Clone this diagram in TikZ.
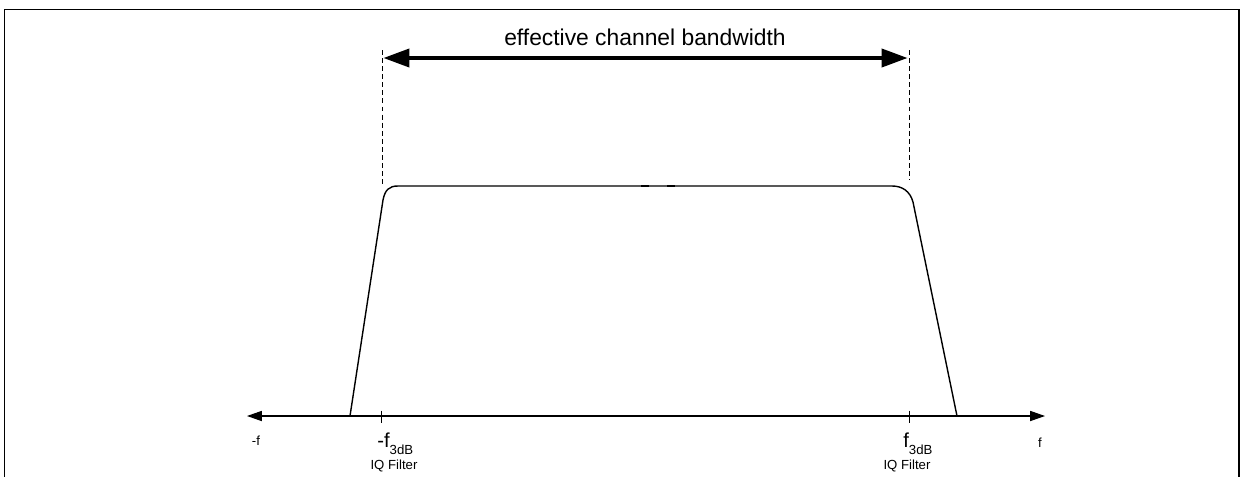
\documentclass[tikz,border=0pt]{standalone}
\usepackage{fontspec}
\setmainfont{Liberation Sans}
\usetikzlibrary{arrows.meta,positioning}

\newcommand{\fsub}[1]{{\fontsize{11.5}{13}\selectfont #1}\raisebox{-4.5pt}{\fontsize{7.5}{9}\selectfont 3dB}}

\begin{document}
\begin{tikzpicture}[x=0.02cm,y=-0.02cm,
    axis/.style={line width=0.6pt,{Triangle[length=8.5pt,width=5.8pt]}-{Triangle[length=8.5pt,width=5.8pt]}},
    bwarrow/.style={line width=2.8pt,{Triangle[length=15pt,width=10pt]}-{Triangle[length=15pt,width=10pt]}},
    guide/.style={dash pattern=on 2.8pt off 1.8pt,line width=0.5pt},
    curve/.style={line width=0.8pt},
    small/.style={font=\fontsize{7.5}{9}\selectfont,inner sep=0pt}]
  \useasboundingbox (0,0) rectangle (1242,477);
  % open frame
  \draw[line width=0.8pt] (4.5,477) -- (4.5,9.5) -- (1239,9.5) -- (1239,477);
  % frequency axis
  \coordinate (axL) at (247,416);
  \coordinate (axR) at (1045,416);
  \draw[axis] (axL) -- (axR);
  % ticks at the 3 dB points
  \coordinate (tkL) at (381,416);
  \coordinate (tkR) at (909,416);
  \draw[line width=0.5pt] ([yshift=3pt]tkL) -- ([yshift=-4pt]tkL);
  \draw[line width=0.5pt] ([yshift=3pt]tkR) -- ([yshift=-4pt]tkR);
  % filter passband
  \coordinate (baseL) at (350,416);
  \coordinate (baseR) at (957,416);
  \coordinate (topL) at (398,186);
  \coordinate (topR) at (892,186);
  \draw[curve] (baseL) -- (383,200) .. controls (385,190) and (389,186) .. (topL) -- (topR)
    .. controls (902,186) and (910,191) .. (913,202) -- (baseR);
  \draw[line width=1.6pt] (641,186) -- (649,186) (667,186) -- (675,186);
  % bandwidth marker
  \coordinate (bwL) at (382,50);
  \coordinate (bwR) at (909,50);
  \draw[guide] (bwL) -- (382,187);
  \draw[guide] (bwR) -- (909,180);
  \draw[bwarrow] (383,58) -- (908,58);
  \node[font=\fontsize{13}{15}\selectfont] (bwtext) at (645,37) {effective channel bandwidth};
  % axis labels
  \node[small] (fneg) at (256,441) {-f};
  \node[small] (fpos) at (1040,443) {f};
  \node[anchor=base west,inner sep=0pt] (f3L) at (377,447) {\fsub{-f}};
  \node[anchor=base west,inner sep=0pt] (f3R) at (903,447) {\fsub{f}};
  \node[small] (iqL) at (394,466) {IQ Filter};
  \node[small] (iqR) at (907,466) {IQ Filter};
\end{tikzpicture}
\end{document}
